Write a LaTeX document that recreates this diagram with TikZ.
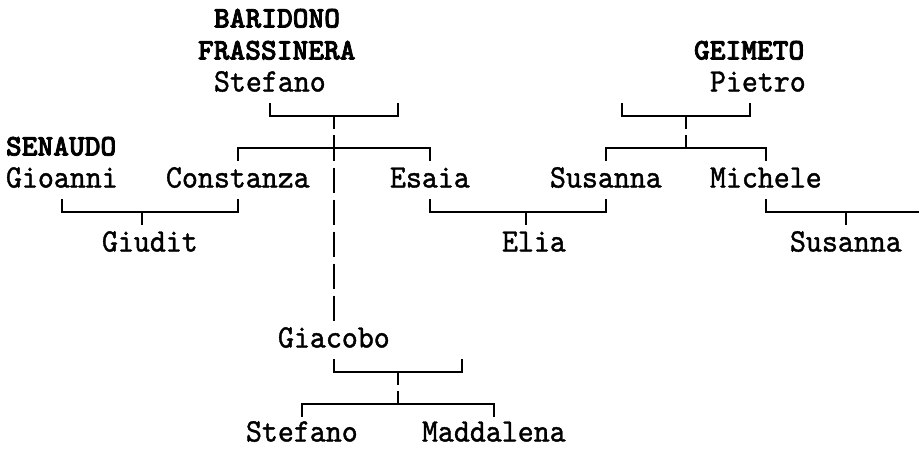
\documentclass[tikz,border=0pt]{standalone}
\usepackage{fontspec}
\newfontfamily\namefont[FakeStretch=0.93,FakeBold=1.2]{lmmono10-regular.otf}
\newfontfamily\surfont[FakeStretch=1.0,FakeBold=2.5]{lmmonolt10-bold.otf}
\newcommand\Cx[1]{(14+16*(#1))}
\newcommand\Rt[1]{(4+32*(#1))}
\newcommand\Tx[1]{(6+16*(#1))}
\newcommand\Rb[1]{(27.5+32*(#1))}
% up bracket  └──┬──┘ : name, left col, mid col, right col, row
\newcommand\upbr[5]{%
  \coordinate (#1-l) at ({\Cx{#2}},{\Rt{#5}+3});
  \coordinate (#1-r) at ({\Cx{#4}},{\Rt{#5}+3});
  \coordinate (#1-m) at ({\Cx{#3}},{\Rt{#5}+28.5});
  \draw[famline] (#1-l) -- ++(0,13) -| (#1-r);
  \draw[famline] (#1-m) -- ++(0,-12.5);
}
% down bracket ┌──┴──┐ : name, left col, mid col, right col, row
\newcommand\dnbr[5]{%
  \coordinate (#1-l) at ({\Cx{#2}},{\Rt{#5}+28.5});
  \coordinate (#1-r) at ({\Cx{#4}},{\Rt{#5}+28.5});
  \coordinate (#1-m) at ({\Cx{#3}},{\Rt{#5}+3});
  \draw[famline] (#1-l) -- ++(0,-12.5) -| (#1-r);
  \draw[famline] (#1-m) -- ++(0,13);
}
% vertical glyph │ : name, col, row
\newcommand\vseg[3]{%
  \coordinate (#1-t) at ({\Cx{#2}},{\Rt{#3}+3.5});
  \coordinate (#1-b) at ({\Cx{#2}},{\Rt{#3}+28.5});
  \draw[famline] (#1-t) -- (#1-b);
}
\begin{document}
\begin{tikzpicture}[x=1pt,y=-1pt,
  nm/.style={anchor=base west, inner sep=0pt, outer sep=0pt, font=\namefont\fontsize{32.7}{32.7}\selectfont},
  sn/.style={anchor=base west, inner sep=0pt, outer sep=0pt, font=\surfont\fontsize{30}{30}\selectfont},
  famline/.style={line width=1.8pt, line join=miter, black}]
\useasboundingbox[fill=white] (0,0) rectangle (919,448);

% names
\node[sn] (baridono)   at ({\Tx{13}},{\Rb{0}}) {BARIDONO};
\node[sn] (frassinera) at ({\Tx{12}},{\Rb{1}}) {FRASSINERA};
\node[sn] (geimeto)    at ({\Tx{43}},{\Rb{1}}) {GEIMETO};
\node[nm] (stefano)    at ({\Tx{13}},{\Rb{2}}) {Stefano};
\node[nm] (pietro)     at ({\Tx{44}},{\Rb{2}}) {Pietro};
\node[sn] (senaudo)    at ({\Tx{0}},{\Rb{4}})  {SENAUDO};
\node[nm] (gioanni)    at ({\Tx{0}},{\Rb{5}})  {Gioanni};
\node[nm] (constanza)  at ({\Tx{10}},{\Rb{5}}) {Constanza};
\node[nm] (esaia)      at ({\Tx{24}},{\Rb{5}}) {Esaia};
\node[nm] (susanna)    at ({\Tx{34}},{\Rb{5}}) {Susanna};
\node[nm] (michele)    at ({\Tx{44}},{\Rb{5}}) {Michele};
\node[nm] (giudit)     at ({\Tx{6}},{\Rb{7}})  {Giudit};
\node[nm] (elia)       at ({\Tx{31}},{\Rb{7}}) {Elia};
\node[nm] (susanna2)   at ({\Tx{49}},{\Rb{7}}) {Susanna};
\node[nm] (giacobo)    at ({\Tx{17}},{\Rb{10}}) {Giacobo};
\node[nm] (stefano2)   at ({\Tx{15}},{\Rb{13}-2}) {Stefano};
\node[nm] (maddalena)  at ({\Tx{26}},{\Rb{13}-2}) {Maddalena};

% brackets
\upbr{stefP}{16}{20}{24}{3}
\dnbr{stefC}{14}{20}{26}{4}
\upbr{pietP}{38}{42}{46}{3}
\dnbr{pietC}{37}{42}{47}{4}
\upbr{gioP}{3}{8}{14}{6}
\upbr{esaP}{26}{32}{37}{6}
\upbr{micP}{47}{52}{57}{6}
\upbr{giaP}{20}{24}{28}{11}
\dnbr{giaC}{18}{24}{30}{12}
\foreach \r in {4,...,9}{\vseg{line\r}{20}{\r}}
\end{tikzpicture}
\end{document}
